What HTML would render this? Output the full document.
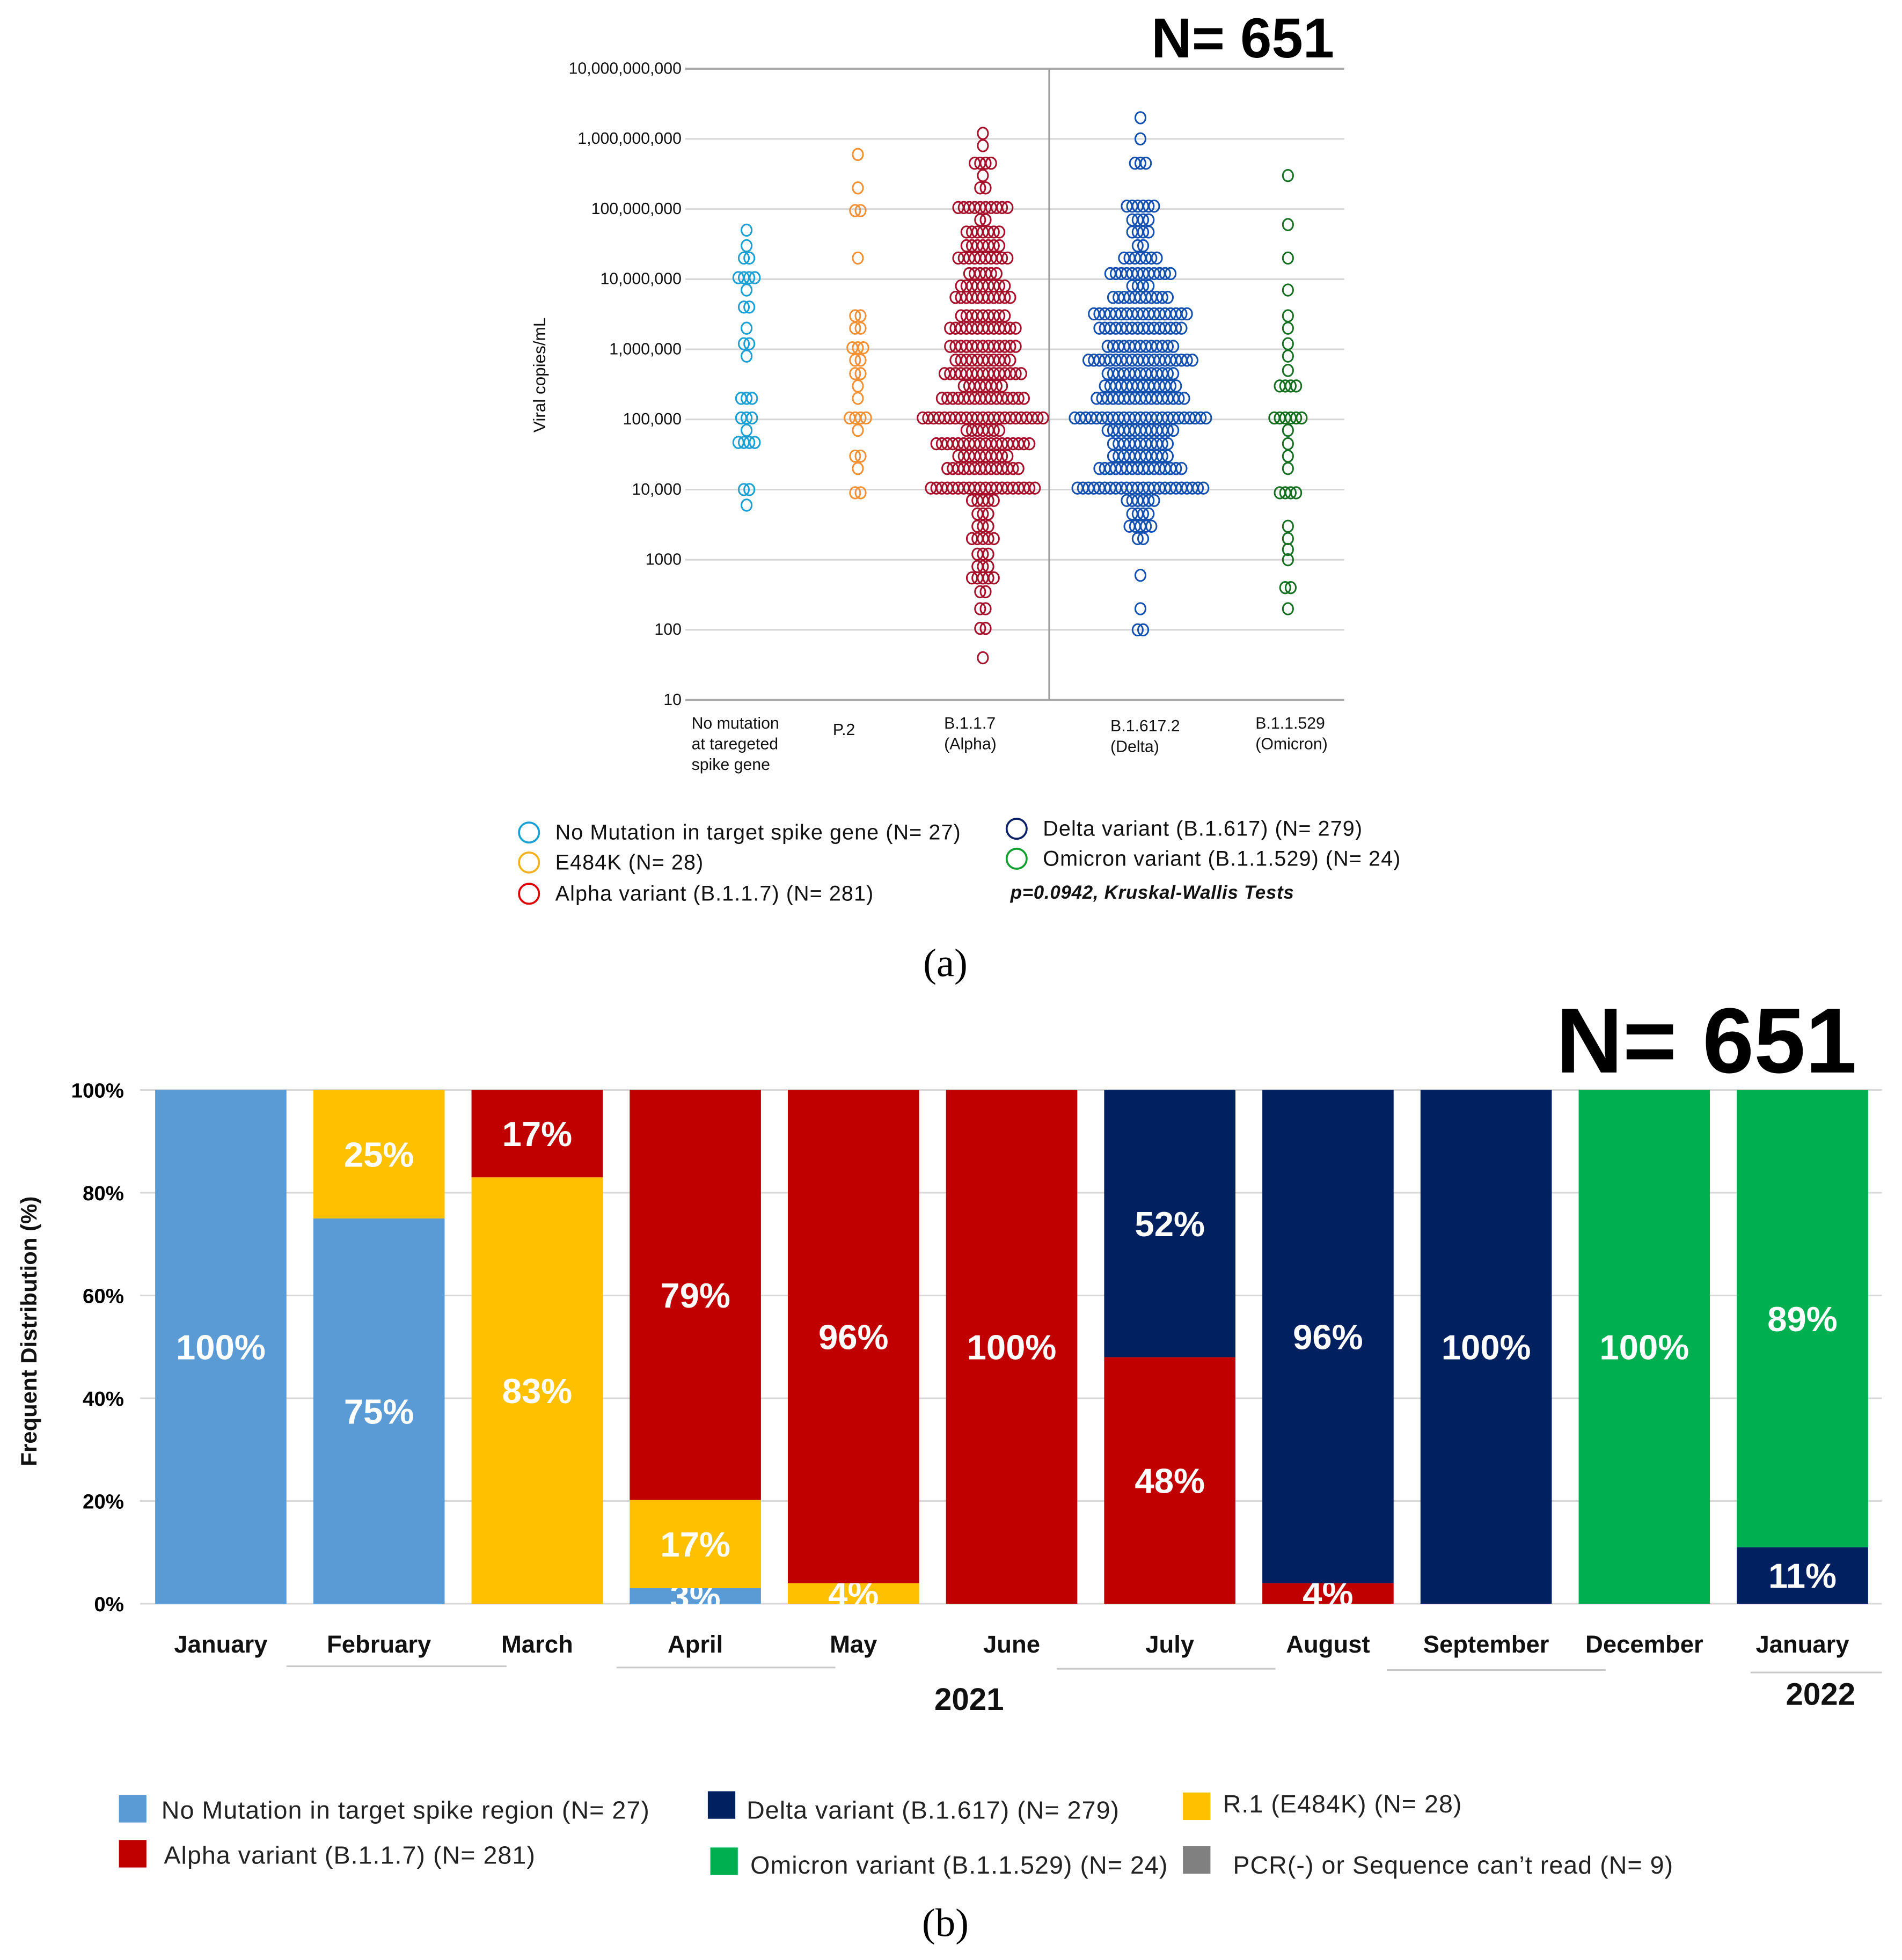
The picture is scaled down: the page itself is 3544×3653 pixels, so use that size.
<!DOCTYPE html>
<html><head><meta charset="utf-8"><style>
html,body{margin:0;padding:0;background:#fff}
svg{display:block}
text{font-family:"Liberation Sans",Arial,sans-serif}
text.serif{font-family:"Liberation Serif","DejaVu Serif",serif}
</style></head><body>
<svg id="fig" width="3544" height="3653" viewBox="0 0 1521 1568" xmlns="http://www.w3.org/2000/svg">
<g id="pa"></g>
<g id="pb"></g>
</svg>
<script>
// ---------- Panel A data ----------
const aCategories = ["No mutation at taregeted spike gene","P.2","B.1.1.7 (Alpha)","B.1.617.2 (Delta)","B.1.1.529 (Omicron)"];
const aTicks = [10,100,1000,10000,100000,1e6,1e7,1e8,1e9,1e10];
const aTickLabels = ["10","100","1000","10,000","100,000","1,000,000","10,000,000","100,000,000","1,000,000,000","10,000,000,000"];
const noMutLevels = [5e7,3e7,2e7,1.05e7,7e6,4e6,2e6,1.2e6,8e5,2e5,1.05e5,7e4,4.7e4,1e4,6e3];
const noMutCounts = [1,1,2,4,1,2,1,2,1,3,3,1,4,2,1];
const p2Levels = [6e8,2e8,9.5e7,2e7,3e6,2e6,1.05e6,7e5,4.5e5,3e5,2e5,1.05e5,7e4,3e4,2e4,9e3];
const p2Counts = [1,1,2,1,2,2,3,2,2,1,1,4,1,2,1,2];
const alphaLevels = [1.2e9,8e8,4.5e8,3e8,2e8,1.05e8,7e7,4.7e7,3e7,2e7,1.2e7,8e6,5.5e6,3e6,2e6,1.1e6,7e5,4.5e5,3e5,2e5,1.05e5,7e4,4.5e4,3e4,2e4,1.05e4,7e3,4.5e3,3e3,2e3,1.2e3,8e2,5.5e2,3.5e2,2e2,1.05e2,40];
const alphaCounts = [1,1,4,1,2,10,2,7,7,10,6,9,11,9,13,13,11,15,8,16,23,7,18,10,14,20,5,3,3,5,3,3,5,2,2,2,1];
const deltaLevels = [2e9,1e9,4.5e8,1.1e8,7e7,4.7e7,3e7,2e7,1.2e7,8e6,5.5e6,3.2e6,2e6,1.1e6,7e5,4.5e5,3e5,2e5,1.05e5,7e4,4.5e4,3e4,2e4,1.05e4,7e3,4.5e3,3e3,2e3,6e2,2e2,1e2];
const deltaCounts = [1,1,3,6,4,4,2,7,12,4,11,18,16,13,20,13,14,17,25,13,11,11,16,24,6,4,5,2,1,1,2];
const omiLevels = [3e8,6e7,2e7,7e6,3e6,2e6,1.2e6,8e5,5e5,3e5,1.05e5,7e4,4.5e4,3e4,2e4,9e3,3e3,2e3,1.4e3,1e3,4e2,2e2];
const omiCounts = [1,1,1,1,1,1,1,1,1,4,6,1,1,1,1,4,1,1,1,1,2,1];

// ---------- Panel B data ----------
const bMonths = ["January","February","March","April","May","June","July","August","September","December","January"];
const bYTicks = [0,20,40,60,80,100];
const noMutPct = [100,75,0,3,0,0,0,0,0,0,0];
const r1Pct    = [0,25,83,17,4,0,0,0,0,0,0];
const alphaPct = [0,0,17,79,96,100,48,4,0,0,0];
const deltaPct = [0,0,0,0,0,0,52,96,100,0,11];
const omiPct   = [0,0,0,0,0,0,0,0,0,100,89];

const NS="http://www.w3.org/2000/svg";
function mk(tag,attrs,parent,txt){const e=document.createElementNS(NS,tag);for(const k in attrs)e.setAttribute(k,attrs[k]);if(txt!==undefined)e.textContent=txt;parent.appendChild(e);return e;}

// ---------- Panel A ----------
const pa=document.getElementById('pa');
const aTop=55,aBot=560,aL=548,aR=1075;
const ay=v=>aBot-(Math.log10(v)-1)*(aBot-aTop)/9;
const ax=[597,686,786,912,1030];
aTicks.forEach((t,i)=>{
  const g=mk('line',{x1:aL,x2:aR,y1:ay(t),y2:ay(t),stroke:(i==0||i==9)?'#a8a8a8':'#d6d6d6','stroke-width':(i==0||i==9)?1.6:1.3},pa);
  
  
  const l=mk('text',{x:545,y:ay(t)+4,'font-size':13,'text-anchor':'end',fill:'#111'},pa,aTickLabels[i]);
  
  
});
const vl=mk('line',{x1:839,x2:839,y1:aTop,y2:aBot,stroke:'#a0a0a0','stroke-width':1.3},pa);


const series=[[noMutLevels,noMutCounts,'#1aa0d4','no-mutation'],[p2Levels,p2Counts,'#f59033','p2'],[alphaLevels,alphaCounts,'#a6102a','alpha'],[deltaLevels,deltaCounts,'#1450b0','delta'],[omiLevels,omiCounts,'#147020','omicron']];
const sp=4.38;
series.forEach((s,si)=>{
  const g=mk('g',{},pa);
  
  
  s[0].forEach((v,i)=>{
    const n=s[1][i];
    for(let k=0;k<n;k++){
      const c=mk('ellipse',{cx:ax[si]+(k-(n-1)/2)*sp,cy:ay(v),rx:4.1,ry:4.6,fill:'none',stroke:s[2],'stroke-width':1.3},g);
      
      
    }
  });
});
const catLines=[["No mutation","at taregeted","spike gene"],["P.2"],["B.1.1.7","(Alpha)"],["B.1.617.2","(Delta)"],["B.1.1.529","(Omicron)"]];
const catX=[553,666,755,888,1004];
const catY=[583,588,583,585,583];
catLines.forEach((ls,i)=>{
  const t=mk('text',{x:catX[i],y:catY[i],'font-size':13,fill:'#111'},pa);
  
  
  ls.forEach((s,j)=>mk('tspan',{x:catX[i],dy:j?16.5:0},t,s));
});
let t=mk('text',{transform:'translate(436,300) rotate(-90)','font-size':13.5,'text-anchor':'middle',fill:'#111'},pa,'Viral copies/mL');

t=mk('text',{x:1067,y:46,'font-size':45,'font-weight':'bold','text-anchor':'end',fill:'#000'},pa,'N= 651');

// legend a
const legA=[[423,666,'#1aa0d4','No Mutation in target spike gene (N= 27)'],[423,690,'#f5b020','E484K (N= 28)'],[423,715,'#e00000','Alpha variant (B.1.1.7) (N= 281)'],[813,663,'#0b1f66','Delta variant (B.1.617) (N= 279)'],[813,687,'#10a030','Omicron variant (B.1.1.529) (N= 24)']];
legA.forEach(l=>{
  const g=mk('g',{},pa);
  
  
  mk('circle',{cx:l[0],cy:l[1],r:8,fill:'none',stroke:l[2],'stroke-width':1.6},g);
  mk('text',{x:l[0]+21,y:l[1]+5.5,'font-size':17,'letter-spacing':0.45,fill:'#111'},g,l[3]);
});
t=mk('text',{x:808,y:719,'font-size':15,'font-weight':'bold','font-style':'italic','letter-spacing':0.3,fill:'#111'},pa,'p=0.0942, Kruskal-Wallis Tests');

t=mk('text',{x:756,y:781,'font-size':32,'text-anchor':'middle',fill:'#000','class':'serif'},pa,'(a)');


// ---------- Panel B ----------
const pb=document.getElementById('pb');
const b0=1283,b100=872;
const by=p=>b0-p*(b0-b100)/100;
const bx=i=>124+i*126.5, bw=105;
bYTicks.forEach(v=>{
  const g=mk('line',{x1:112,x2:1505,y1:by(v),y2:by(v),stroke:'#d8d8d8','stroke-width':1.3},pb);
  
  const l=mk('text',{x:99,y:by(v)+6,'font-size':16.5,'font-weight':'bold','text-anchor':'end',fill:'#000'},pb,v+'%');
  
});
const stacks=[[noMutPct,'#5b9bd5','no-mutation'],[r1Pct,'#ffc000','r1'],[alphaPct,'#c00000','alpha'],[deltaPct,'#002060','delta'],[omiPct,'#00b050','omicron']];
bMonths.forEach((m,i)=>{
  let total=0;stacks.forEach(s=>total+=s[0][i]);
  let acc=0;
  stacks.forEach(s=>{
    const v=s[0][i]; if(!v) return;
    const p0=acc/total*100, p1=(acc+v)/total*100; acc+=v;
    const r=mk('rect',{x:bx(i),y:by(p1),width:bw,height:by(p0)-by(p1),fill:s[1]},pb);
    
    
    const tl=mk('text',{x:bx(i)+bw/2,y:(by(p0)+by(p1))/2+10,'font-size':28,'font-weight':'bold','text-anchor':'middle',fill:'#fff'},pb,v+'%');
    
    
  });
  const ml=mk('text',{x:bx(i)+bw/2,y:1322,'font-size':19.5,'font-weight':'bold','text-anchor':'middle',fill:'#111'},pb,m);
  
  
});
[[229,405,1333],[493,668,1334],[845,1020,1335],[1109,1284,1336],[1400,1505,1338]].forEach(l=>{
  const g=mk('line',{x1:l[0],x2:l[1],y1:l[2],y2:l[2],stroke:'#c8c8c8','stroke-width':1.3},pb);
  
});
t=mk('text',{x:775,y:1368,'font-size':25,'font-weight':'bold','text-anchor':'middle',fill:'#111'},pb,'2021');

t=mk('text',{x:1456,y:1364,'font-size':25,'font-weight':'bold','text-anchor':'middle',fill:'#111'},pb,'2022');

t=mk('text',{transform:'translate(29,1065) rotate(-90)','font-size':18,'font-weight':'bold','text-anchor':'middle',fill:'#111'},pb,'Frequent Distribution (%)');

t=mk('text',{x:1485,y:858,'font-size':74,'font-weight':'bold','text-anchor':'end',fill:'#000'},pb,'N= 651');

const legB=[[95,1436,'#5b9bd5',129,1455,'No Mutation in target spike region (N= 27)'],[95,1472,'#c00000',131,1491,'Alpha variant (B.1.1.7) (N= 281)'],[566,1433,'#002060',597,1455,'Delta variant (B.1.617) (N= 279)'],[568,1478,'#00b050',600,1499,'Omicron variant (B.1.1.529) (N= 24)'],[946,1434,'#ffc000',978,1450,'R.1 (E484K) (N= 28)'],[946,1477,'#808080',986,1499,'PCR(-) or Sequence can\u2019t read (N= 9)']];
legB.forEach(l=>{
  const g=mk('g',{},pb);
  
  
  mk('rect',{x:l[0],y:l[1],width:22,height:22,fill:l[2]},g);
  mk('text',{x:l[3],y:l[4],'font-size':20,'letter-spacing':0.45,fill:'#222'},g,l[5]);
});
t=mk('text',{x:756,y:1549,'font-size':32,'text-anchor':'middle',fill:'#000','class':'serif'},pb,'(b)');

</script>
</body></html>
